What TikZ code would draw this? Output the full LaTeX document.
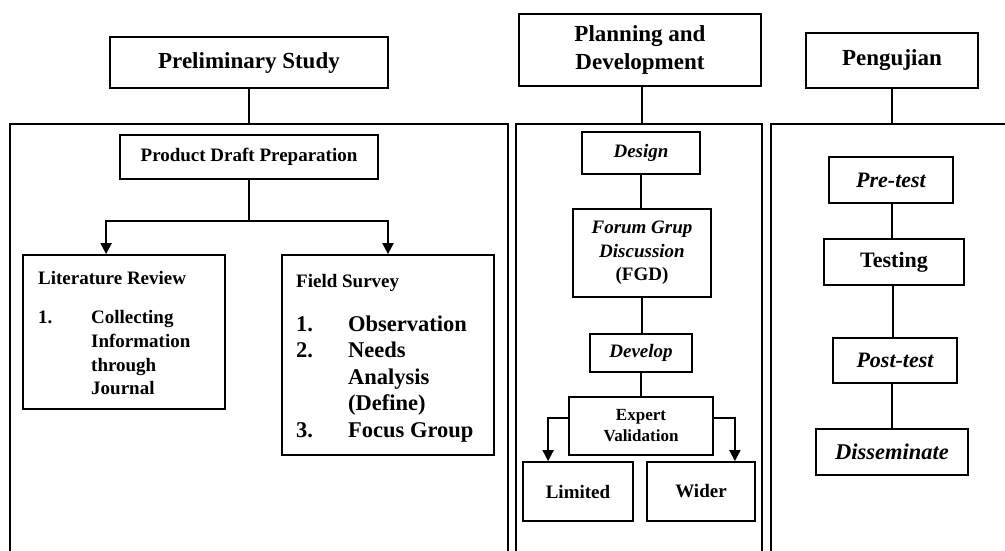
\documentclass[tikz,border=0pt]{standalone}
\usepackage{fontspec}
\setmainfont{Liberation Serif}
\usetikzlibrary{arrows.meta}
\newcommand{\fsz}[2]{\fontsize{#1}{#2}\selectfont}
\tikzset{
  bx/.style={draw, line width=1.8pt, inner sep=0pt, align=center, font=\bfseries},
  panel/.style={line width=1.9pt},
  conn/.style={line width=1.9pt},
  arr/.style={line width=1.9pt, -{Triangle[length=11pt,width=11pt]}},
  txt/.style={inner sep=0pt, anchor=base west, font=\bfseries},
}
\begin{document}
\begin{tikzpicture}[x=1pt,y=-1pt]
\useasboundingbox (0,0) rectangle (1005,550);
\fill[white] (0,0) rectangle (1005,550);

% panels
\coordinate (p1bl) at (10,551);
\coordinate (p1tl) at (10,124);
\coordinate (p1tr) at (508,124);
\coordinate (p1br) at (508,551);
\coordinate (p2bl) at (516,551);
\coordinate (p2tl) at (516,124);
\coordinate (p2tr) at (762,124);
\coordinate (p2br) at (762,551);
\coordinate (p3bl) at (771,551);
\coordinate (p3tl) at (771,124);
\coordinate (p3tr) at (1006,124);
\draw[panel] (p1bl) -- (p1tl) -- (p1tr) -- (p1br);
\draw[panel] (p2bl) -- (p2tl) -- (p2tr) -- (p2br);
\draw[panel] (p3bl) -- (p3tl) -- (p3tr);

% ---------- Preliminary Study ----------
\node[bx, minimum width=278pt, minimum height=51pt, font=\bfseries\fsz{23}{28}] (ps) at (249,62.5) {Preliminary Study};
\draw[conn] (ps.south) -- (ps.south |- p1tl);

\node[bx, minimum width=258pt, minimum height=44pt, font=\bfseries\fsz{19}{23}] (pdp) at (249,157) {Product Draft Preparation};

\node[bx, minimum width=202pt, minimum height=154pt] (lit) at (124,332) {};
\node[bx, minimum width=212pt, minimum height=200pt] (fs) at (388,355) {};

\coordinate (split) at (249,221);
\draw[conn] (pdp.south) -- (split);
\draw[arr] (split) -| ([xshift=84pt]lit.north west);
\draw[arr] (split) -| (fs.north);

% Literature review text
\node[txt, font=\bfseries\fsz{19}{24}] (lt0) at (38,284) {Literature Review};
\node[txt, font=\bfseries\fsz{19}{24}] (lt1n) at (38,323) {1.};
\node[txt, font=\bfseries\fsz{19}{24}] (lt1) at (91,323) {Collecting};
\node[txt, font=\bfseries\fsz{19}{24}] (lt2) at (91,347) {Information};
\node[txt, font=\bfseries\fsz{19}{24}] (lt3) at (91,371) {through};
\node[txt, font=\bfseries\fsz{19}{24}] (lt4) at (91,394) {Journal};

% Field survey text
\node[txt, font=\bfseries\fsz{19}{24}] (fs0) at (296,287) {Field Survey};
\node[txt, font=\bfseries\fsz{22.5}{27}] (fs1n) at (296,331) {1.};
\node[txt, font=\bfseries\fsz{22.5}{27}] (fs1) at (348,331) {Observation};
\node[txt, font=\bfseries\fsz{22.5}{27}] (fs2n) at (296,357) {2.};
\node[txt, font=\bfseries\fsz{22.5}{27}] (fs2) at (348,357) {Needs};
\node[txt, font=\bfseries\fsz{22.5}{27}] (fs2b) at (348,384) {Analysis};
\node[txt, font=\bfseries\fsz{22.5}{27}] (fs2c) at (348,410) {(Define)};
\node[txt, font=\bfseries\fsz{22.5}{27}] (fs3n) at (296,437) {3.};
\node[txt, font=\bfseries\fsz{22.5}{27}] (fs3) at (348,437) {Focus Group};

% ---------- Planning and Development ----------
\node[bx, minimum width=242pt, minimum height=72pt, font=\bfseries\fsz{23}{28}] (pd) at (640,50) {Planning and\\Development};
\draw[conn] ([xshift=2pt]pd.south) -- ([xshift=2pt]pd.south |- p2tl);

\node[bx, minimum width=118pt, minimum height=42pt, font=\bfseries\itshape\fsz{19}{23}] (des) at (641,153) {Design};
\node[bx, minimum width=138pt, minimum height=88pt, font=\bfseries\fsz{19}{23.5}] (fgd) at (642,253) {\textit{Forum Grup}\\\textit{Discussion}\\(FGD)};
\node[bx, minimum width=102pt, minimum height=38pt, font=\bfseries\itshape\fsz{19}{23}] (dev) at (641,353) {Develop};
\node[bx, minimum width=144pt, minimum height=58pt, font=\bfseries\fsz{17}{21}] (ev) at (641,426) {Expert\\Validation};
\node[bx, minimum width=110pt, minimum height=59pt, font=\bfseries\fsz{19}{23}] (lim) at (578,491.5) {Limited};
\node[bx, minimum width=108pt, minimum height=59pt, font=\bfseries\fsz{19}{23}] (wid) at (701,491.5) {Wider};

\draw[conn] (des.south) -- (des.south |- fgd.north);
\draw[conn] (fgd.south) -- (fgd.south |- dev.north);
\draw[conn] (dev.south) -- (dev.south |- ev.north);
\draw[arr] ([yshift=8pt]ev.west) -| ([xshift=26pt]lim.north west);
\draw[arr] ([yshift=8pt]ev.east) -| ([xshift=-21pt]wid.north east);

% ---------- Pengujian ----------
\node[bx, minimum width=172pt, minimum height=55pt, font=\bfseries\fsz{23}{28}] (pg) at (892,60.5) {Pengujian};
\draw[conn] (pg.south) -- (pg.south |- p3tl);

\node[bx, minimum width=124pt, minimum height=46pt, font=\bfseries\itshape\fsz{22}{26}] (pre) at (891,180) {Pre-test};
\node[bx, minimum width=140pt, minimum height=46pt, font=\bfseries\fsz{22}{26}] (tst) at (894,262) {Testing};
\node[bx, minimum width=124pt, minimum height=45pt, font=\bfseries\itshape\fsz{22}{26}] (post) at (895,360.5) {Post-test};
\node[bx, minimum width=152pt, minimum height=46pt, font=\bfseries\itshape\fsz{22.5}{26}] (dis) at (892,452) {Disseminate};

\draw[conn] ([xshift=1pt]pre.south) -- ([xshift=1pt]pre.south |- tst.north);
\draw[conn] ([xshift=-1pt]tst.south) -- ([xshift=-1pt]tst.south |- post.north);
\draw[conn] ([xshift=-3pt]post.south) -- ([xshift=-3pt]post.south |- dis.north);
\end{tikzpicture}
\end{document}
